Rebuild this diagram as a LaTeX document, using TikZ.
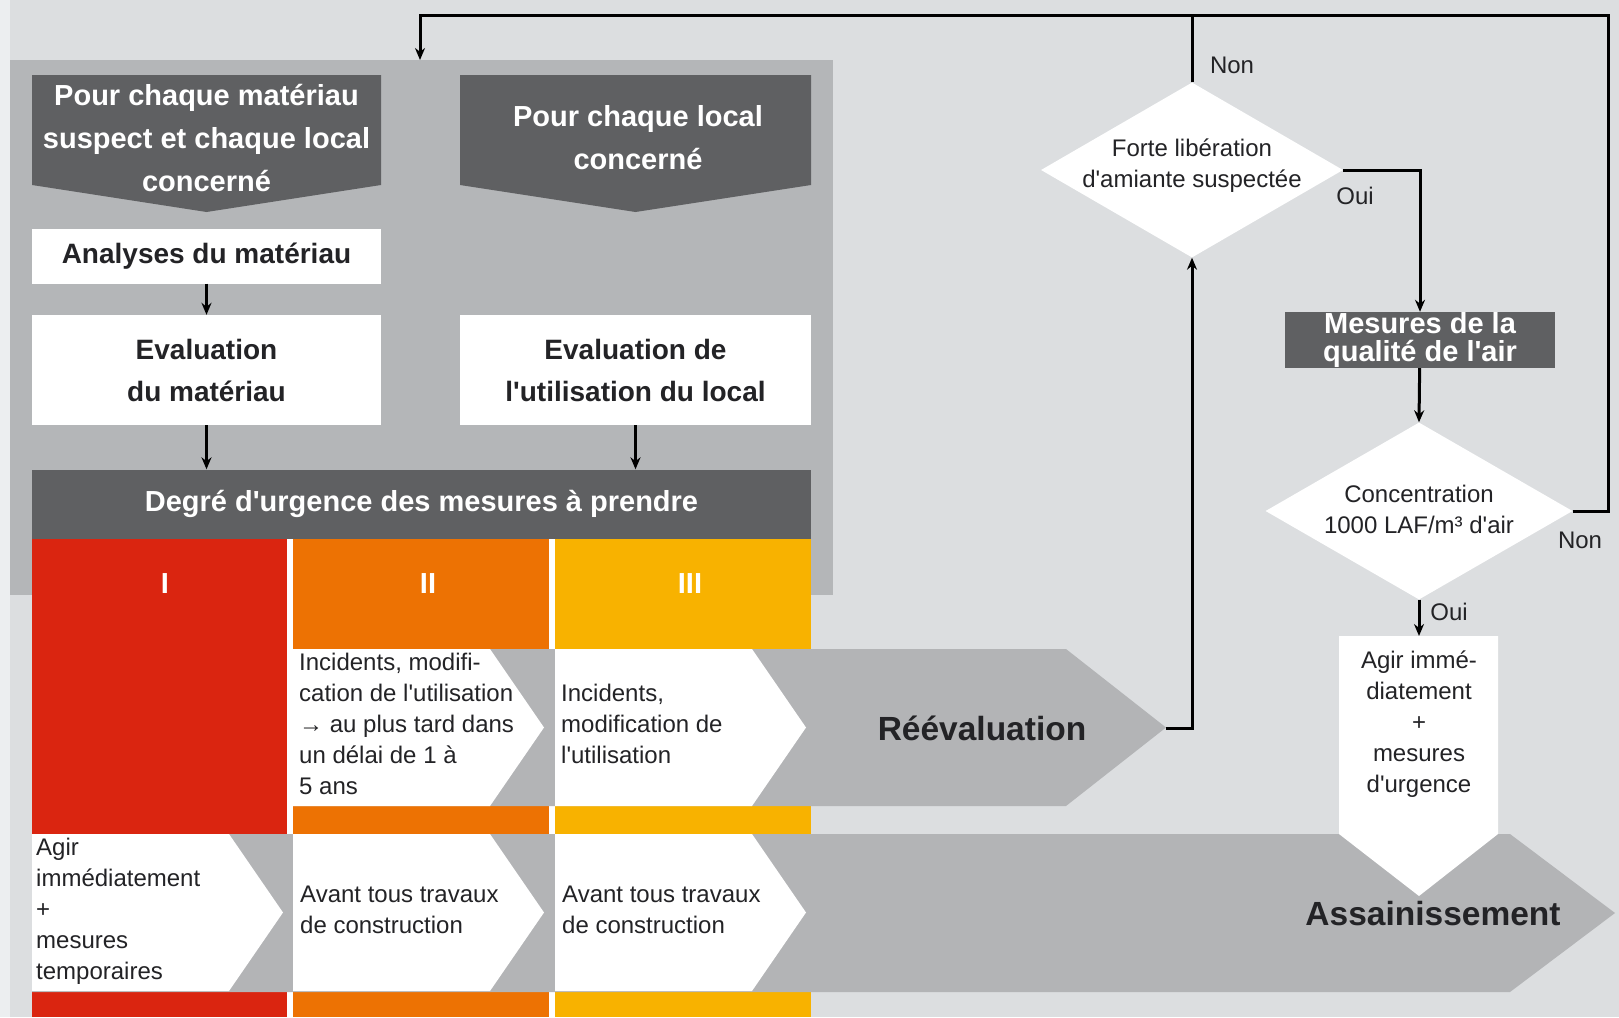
\documentclass[tikz,border=0pt]{standalone}
\usepackage{fontspec}
\setmainfont{Liberation Sans}
\newfontfamily\arial{Liberation Sans}
\usetikzlibrary{shapes.geometric, arrows.meta}
\definecolor{light}{RGB}{220, 222, 224}
\definecolor{edge}{RGB}{236, 238, 240}
\definecolor{panel}{RGB}{180, 182, 184}
\definecolor{flow}{RGB}{179, 180, 182}
\definecolor{dark}{RGB}{95, 96, 98}
\definecolor{ink}{RGB}{35, 35, 38}
\definecolor{urgI}{RGB}{218, 37, 16}
\definecolor{urgII}{RGB}{237, 114, 3}
\definecolor{urgIII}{RGB}{248, 178, 0}

\begin{document}
\begin{tikzpicture}[x=1pt, y=-1pt,
  head/.style={white, align=center, inner sep=0, font=\arial\bfseries\fontsize{29}{43}\selectfont},
  box/.style={fill=white, inner sep=0, align=center, text=ink, font=\arial\bfseries\fontsize{28}{42}\selectfont},
  cell/.style={anchor=west, inner sep=0, align=left, text=ink, font=\arial\fontsize{24}{31}\selectfont},
  big/.style={inner sep=0, text=ink, font=\arial\bfseries\fontsize{33.5}{40}\selectfont},
  decision/.style={diamond, fill=white, inner sep=0},
  small/.style={inner sep=0, text=ink, font=\arial\fontsize{24}{31}\selectfont},
  link/.style={line width=3pt, -{Stealth[length=12pt, width=10pt]}}]
  \useasboundingbox (0, 0) rectangle (1619, 1017);
  \fill[light] (0, 0) rectangle (1619, 1017);
  \fill[edge] (0, 0) rectangle (10, 1017);

  \fill[panel] (10, 60) rectangle (833, 595);

  \fill[dark] (32, 75) -- (381, 75) -- (381, 185) -- (206.5, 212) -- (32, 185) -- cycle;
  \node[head] (hmat) at (206.5, 138) {Pour chaque matériau\\suspect et chaque local\\concerné};
  \fill[dark] (460, 75) -- (811, 75) -- (811, 185) -- (635.5, 212) -- (460, 185) -- cycle;
  \node[head] (hloc) at (638, 138) {Pour chaque local\\concerné};

  \node[box, minimum width=349pt, minimum height=55pt] (analyses) at (206.5, 256) {Analyses du matériau};
  \node[box, minimum width=349pt, minimum height=110pt] (evalmat) at (206.5, 370) {Evaluation\\du matériau};
  \node[box, minimum width=351pt, minimum height=110pt] (evalloc) at (635.5, 370) {Evaluation de\\l'utilisation du local};

  \node[head, fill=dark, minimum width=779pt, minimum height=69pt] (degre) at (421.5, 504) {Degré d'urgence des mesures à prendre};

  % colonnes d'urgence
  \fill[white] (32, 538.5) rectangle (811, 1017);
  \fill[urgI] (32, 538.5) rectangle (287, 1017);
  \fill[urgII] (293, 538.5) rectangle (549, 1017);
  \fill[urgIII] (555, 538.5) rectangle (811, 1017);
  \node[head] (nI) at (165, 584) {I};
  \node[head] (nII) at (428, 584) {II};
  \node[head] (nIII) at (690, 584) {III};

  \fill[flow] (293, 649) -- (1066, 649) -- (1166, 727.5) -- (1066, 806) -- (293, 806) -- cycle;
  \fill[flow] (32, 834) -- (1510, 834) -- (1615, 913) -- (1510, 992) -- (32, 992) -- cycle;

  \foreach \x/\y in {293/649, 555/649, 32/834, 293/834, 555/834}
    \fill[white] (\x, \y) -- ++(197, 0) -- ++(54, 78.5) -- ++(-54, 78.5) -- ++(-197, 0) -- cycle;

  \node[cell] (incII) at (299, 724) {Incidents, modifi-\\cation de l'utilisation\\→ au plus tard dans\\un délai de 1 à\\5 ans};
  \node[cell] (incIII) at (561, 724) {Incidents,\\modification de\\l'utilisation};
  \node[cell] (agirI) at (36, 911) {Agir\\immédiatement\\+\\mesures\\temporaires};
  \node[cell] (avantII) at (300, 910) {Avant tous travaux\\de construction};
  \node[cell] (avantIII) at (562, 910) {Avant tous travaux\\de construction};

  \node[big] (reeval) at (982, 728) {Réévaluation};
  \node[big] (assain) at (1433, 914) {Assainissement};

  % partie droite
  \node[decision, minimum width=302pt, minimum height=175pt] (forte) at (1192, 170) {};
  \node[small, align=center] (fortetxt) at (1192, 166) {Forte libération\\d'amiante suspectée};
  \node[head, fill=dark, minimum width=270pt, minimum height=56pt, font=\arial\bfseries\fontsize{29}{28}\selectfont] (mesures) at (1420, 340) {Mesures de la\\qualité de l'air};
  \node[decision, minimum width=307pt, minimum height=177pt] (conc) at (1419, 511) {};
  \node[small, align=center] (conctxt) at (1419, 509) {Concentration\\1000 LAF/m³ d'air};

  \fill[white] (1339, 636) -- (1498, 636) -- (1498, 834) -- (1419, 896) -- (1339, 834) -- cycle;
  \node[small, align=center] (agir) at (1419, 724) {Agir immé-\\diatement\\+\\mesures\\d'urgence};

  \coordinate (agirtop) at (1419, 636);
  \coordinate (reevaltip) at (1166, 728);
  \coordinate (cornerR) at (1608, 15);
  \coordinate (cornerL) at (420, 15);
  \coordinate (entry) at (420, 60);

  \draw[link] (analyses) -- (evalmat);
  \draw[link] (evalmat) -- (degre.north -| evalmat);
  \draw[link] (evalloc) -- (degre.north -| evalloc);

  \draw[link] (reevaltip) -| (forte.south);
  \draw[line width=3pt] (forte.north) -- (forte.north |- cornerR);
  \draw[link] (forte.east) -| (mesures.north);
  \draw[link] (mesures) -- (conc.north);
  \draw[link] (conc.south) -- (agirtop);
  \draw[link] (conc.east) -| (cornerR) -- (cornerL) -- (entry);

  \node[small] (non1) at (1232, 65) {Non};
  \node[small] (oui1) at (1355, 196) {Oui};
  \node[small] (oui2) at (1449, 612) {Oui};
  \node[small] (non2) at (1580, 540) {Non};
\end{tikzpicture}
\end{document}
